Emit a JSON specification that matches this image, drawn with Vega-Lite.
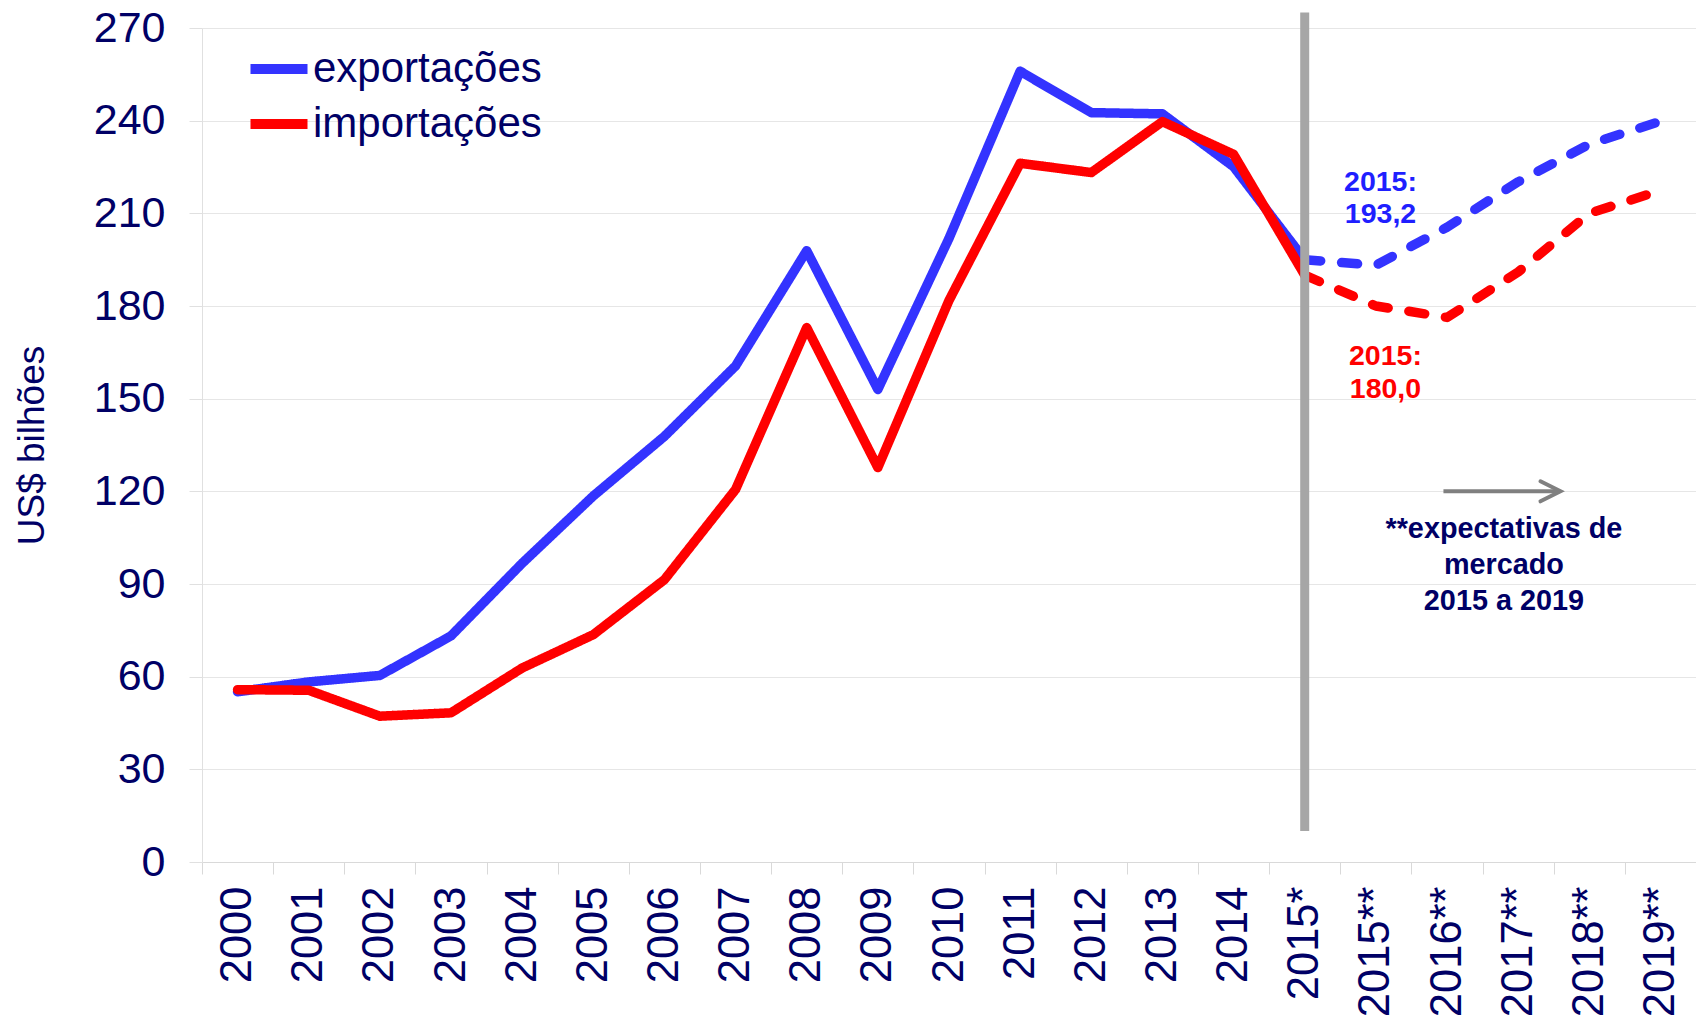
{
  "$schema": "https://vega.github.io/schema/vega-lite/v6.json",
  "width": 1494,
  "height": 834,
  "autosize": {"type": "none"},
  "padding": {"left": 202, "top": 28, "right": 0, "bottom": 155},
  "background": "white",
  "config": {
    "font": "Liberation Sans",
    "view": {"stroke": null},
    "axis": {"labelFont": "Liberation Sans", "titleFont": "Liberation Sans"}
  },
  "datasets": {
    "series": [
      {"ano": "2000", "serie": "exportações", "fase": "realizado", "valor": 55.1},
      {"ano": "2001", "serie": "exportações", "fase": "realizado", "valor": 58.3},
      {"ano": "2002", "serie": "exportações", "fase": "realizado", "valor": 60.4},
      {"ano": "2003", "serie": "exportações", "fase": "realizado", "valor": 73.2},
      {"ano": "2004", "serie": "exportações", "fase": "realizado", "valor": 96.7},
      {"ano": "2005", "serie": "exportações", "fase": "realizado", "valor": 118.5},
      {"ano": "2006", "serie": "exportações", "fase": "realizado", "valor": 137.8},
      {"ano": "2007", "serie": "exportações", "fase": "realizado", "valor": 160.6},
      {"ano": "2008", "serie": "exportações", "fase": "realizado", "valor": 197.9},
      {"ano": "2009", "serie": "exportações", "fase": "realizado", "valor": 153.0},
      {"ano": "2010", "serie": "exportações", "fase": "realizado", "valor": 201.9},
      {"ano": "2011", "serie": "exportações", "fase": "realizado", "valor": 256.0},
      {"ano": "2012", "serie": "exportações", "fase": "realizado", "valor": 242.6},
      {"ano": "2013", "serie": "exportações", "fase": "realizado", "valor": 242.2},
      {"ano": "2014", "serie": "exportações", "fase": "realizado", "valor": 225.1},
      {"ano": "2015*", "serie": "exportações", "fase": "realizado", "valor": 195.0},
      {"ano": "2015*", "serie": "exportações", "fase": "expectativa", "valor": 195.0},
      {"ano": "2015**", "serie": "exportações", "fase": "expectativa", "valor": 193.2},
      {"ano": "2016**", "serie": "exportações", "fase": "expectativa", "valor": 205.5},
      {"ano": "2017**", "serie": "exportações", "fase": "expectativa", "valor": 220.2},
      {"ano": "2018**", "serie": "exportações", "fase": "expectativa", "valor": 232.4},
      {"ano": "2019**", "serie": "exportações", "fase": "expectativa", "valor": 239.8},
      {"ano": "2000", "serie": "importações", "fase": "realizado", "valor": 55.8},
      {"ano": "2001", "serie": "importações", "fase": "realizado", "valor": 55.6},
      {"ano": "2002", "serie": "importações", "fase": "realizado", "valor": 47.2},
      {"ano": "2003", "serie": "importações", "fase": "realizado", "valor": 48.3},
      {"ano": "2004", "serie": "importações", "fase": "realizado", "valor": 62.8},
      {"ano": "2005", "serie": "importações", "fase": "realizado", "valor": 73.6},
      {"ano": "2006", "serie": "importações", "fase": "realizado", "valor": 91.4},
      {"ano": "2007", "serie": "importações", "fase": "realizado", "valor": 120.6},
      {"ano": "2008", "serie": "importações", "fase": "realizado", "valor": 173.0},
      {"ano": "2009", "serie": "importações", "fase": "realizado", "valor": 127.7},
      {"ano": "2010", "serie": "importações", "fase": "realizado", "valor": 181.8},
      {"ano": "2011", "serie": "importações", "fase": "realizado", "valor": 226.2},
      {"ano": "2012", "serie": "importações", "fase": "realizado", "valor": 223.2},
      {"ano": "2013", "serie": "importações", "fase": "realizado", "valor": 239.7},
      {"ano": "2014", "serie": "importações", "fase": "realizado", "valor": 229.1},
      {"ano": "2015*", "serie": "importações", "fase": "realizado", "valor": 190.0},
      {"ano": "2015*", "serie": "importações", "fase": "expectativa", "valor": 190.0},
      {"ano": "2015**", "serie": "importações", "fase": "expectativa", "valor": 180.0},
      {"ano": "2016**", "serie": "importações", "fase": "expectativa", "valor": 176.3},
      {"ano": "2017**", "serie": "importações", "fase": "expectativa", "valor": 191.0},
      {"ano": "2018**", "serie": "importações", "fase": "expectativa", "valor": 210.0},
      {"ano": "2019**", "serie": "importações", "fase": "expectativa", "valor": 217.4}
    ]
  },
  "layer": [
    {
      "data": {"name": "series"},
      "mark": {"type": "line", "strokeWidth": 9.5, "strokeCap": "round", "strokeJoin": "round"},
      "encoding": {
        "x": {
          "field": "ano", "type": "ordinal",
          "scale": {
            "domain": ["2000","2001","2002","2003","2004","2005","2006","2007","2008","2009","2010","2011","2012","2013","2014","2015*","2015**","2016**","2017**","2018**","2019**"],
            "paddingInner": 0, "paddingOuter": 0
          },
          "axis": {
            "title": null,
            "labelAngle": -90,
            "labelAlign": "right",
            "labelBaseline": "middle",
            "labelFontSize": 43.5,
            "labelColor": "#000066",
            "labelPadding": 12,
            "tickBand": "extent",
            "tickSize": 12,
            "tickColor": "#D9D9D9",
            "domainColor": "#D9D9D9",
            "grid": false
          }
        },
        "y": {
          "field": "valor", "type": "quantitative",
          "scale": {"domain": [0, 270], "nice": false, "zero": true},
          "axis": {
            "title": "US$ bilhões",
            "titleFontSize": 37,
            "titleFontWeight": "normal",
            "titleColor": "#000066",
            "titlePadding": 42,
            "values": [0, 30, 60, 90, 120, 150, 180, 210, 240, 270],
            "labelFontSize": 43,
            "labelColor": "#000066",
            "labelPadding": 24,
            "tickSize": 13,
            "tickColor": "#E0E0E0",
            "domainColor": "#E0E0E0",
            "grid": true,
            "gridColor": "#E6E6E6",
            "gridWidth": 1
          }
        },
        "color": {
          "field": "serie", "type": "nominal",
          "scale": {"domain": ["exportações", "importações"], "range": ["#3333FF", "#FF0000"]},
          "legend": {
            "title": null,
            "orient": "none",
            "legendX": 43,
            "legendY": 7,
            "symbolType": "stroke",
            "symbolStrokeWidth": 10,
            "symbolSize": 3250,
            "labelFontSize": 42,
            "labelColor": "#000066",
            "labelOffset": 0,
            "labelLimit": 0,
            "rowPadding": 0,
            "labelFont": "Liberation Sans"
          }
        },
        "strokeDash": {
          "field": "fase", "type": "nominal",
          "scale": {"domain": ["realizado", "expectativa"], "range": [[1, 0], [16, 21]]},
          "legend": null
        },
        "detail": {"field": "fase"}
      }
    },
    {
      "data": {"values": [{}]},
      "mark": {"type": "rule", "color": "#A6A6A6", "strokeWidth": 9},
      "encoding": {
        "x": {"datum": "2015*", "type": "ordinal", "bandPosition": 0.5},
        "y": {"datum": 10, "type": "quantitative"},
        "y2": {"datum": 275}
      }
    },
    {
      "data": {"values": [{}]},
      "mark": {"type": "rule", "color": "#808080", "strokeWidth": 4},
      "encoding": {
        "x": {"datum": "2016**", "type": "ordinal", "bandPosition": 0.45},
        "x2": {"datum": "2018**", "bandPosition": 0.08},
        "y": {"datum": 120, "type": "quantitative"}
      }
    },
    {
      "data": {"values": [{}]},
      "mark": {"type": "point", "shape": "M-1,-0.5L0,0L-1,0.5", "filled": false, "stroke": "#808080", "strokeWidth": 4, "size": 1600, "opacity": 1, "strokeCap": "round"},
      "encoding": {
        "x": {"datum": "2018**", "type": "ordinal", "bandPosition": 0.095},
        "y": {"datum": 120, "type": "quantitative"}
      }
    },
    {
      "data": {"values": [{}]},
      "mark": {"type": "text", "text": ["2015:", "193,2"], "font": "Liberation Sans", "fontWeight": "bold", "fontSize": 28.5, "lineHeight": 32, "color": "#1F1FFF", "align": "center", "baseline": "top"},
      "encoding": {
        "x": {"datum": "2015**", "type": "ordinal", "bandPosition": 0.565},
        "y": {"datum": 224.6, "type": "quantitative"}
      }
    },
    {
      "data": {"values": [{}]},
      "mark": {"type": "text", "text": ["2015:", "180,0"], "font": "Liberation Sans", "fontWeight": "bold", "fontSize": 28.5, "lineHeight": 33, "color": "#FF0000", "align": "center", "baseline": "top"},
      "encoding": {
        "x": {"datum": "2015**", "type": "ordinal", "bandPosition": 0.635},
        "y": {"datum": 168.3, "type": "quantitative"}
      }
    },
    {
      "data": {"values": [{}]},
      "mark": {"type": "text", "text": ["**expectativas de", "mercado", "2015 a 2019"], "font": "Liberation Sans", "fontWeight": "bold", "fontSize": 28.8, "lineHeight": 36, "color": "#000066", "align": "center", "baseline": "top"},
      "encoding": {
        "x": {"datum": "2017**", "type": "ordinal", "bandPosition": 0.3},
        "y": {"datum": 112.4, "type": "quantitative"}
      }
    }
  ]
}
